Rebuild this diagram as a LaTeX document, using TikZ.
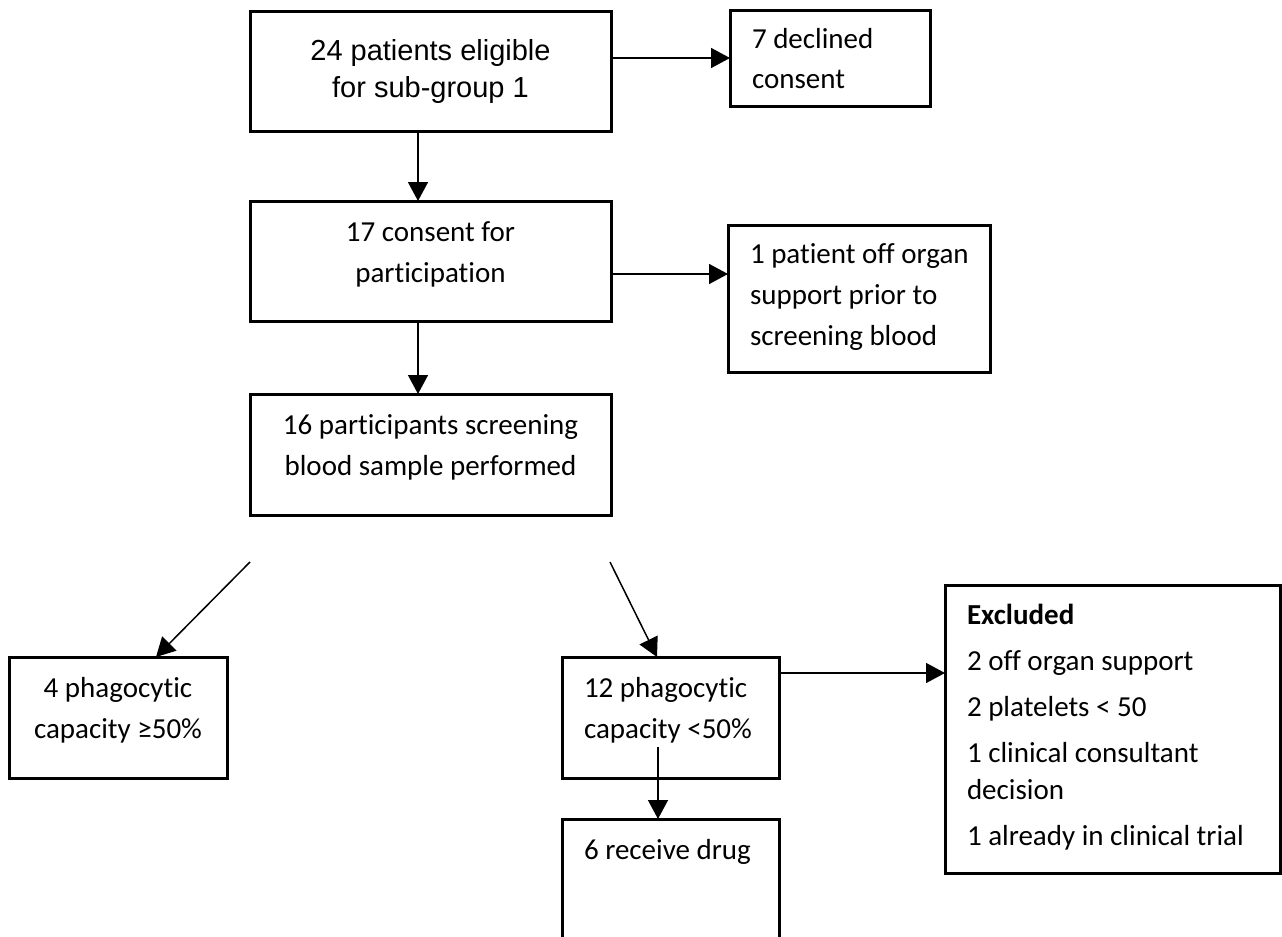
\documentclass[tikz,border=0pt]{standalone}
\usepackage{fontspec}
\setmainfont{Carlito}[Ligatures={NoCommon}]
\newfontfamily\arialfont{Liberation Sans}
\usetikzlibrary{arrows.meta}

\newdimen\px \px=0.5pt
% box of #1 x #2 px, first baseline #3 px below the top
\newcommand\boxtext[5]{%
  \parbox[c][#2\px][t]{#1\px}{#4\rule{0pt}{#3\px}#5}}
\newcommand\middletext{\fontsize{14.5}{20.5}\selectfont\centering}
\newcommand\lefttext{\fontsize{14.5}{20.5}\selectfont\raggedright\leftskip=22\px}
\newcommand\arialtext{\arialfont\fontsize{14.5}{18.5}\selectfont\centering}
\newcommand\listtext{\fontsize{14.5}{18.5}\selectfont\raggedright\leftskip=22\px\parskip=4.5pt}

\tikzset{flowbox/.style={draw, line width=1.5pt, inner sep=0pt, outer sep=0pt, anchor=north west}}

\begin{document}
\begin{tikzpicture}[x=0.5pt, y=-0.5pt, >={Triangle[length=9.5pt,width=10pt]}, line width=0.75pt]
  \useasboundingbox (0,0) rectangle (1282,937);
  \clip (0,0) rectangle (1282,937);

  % main column
  \node[flowbox] (elig) at (250,11) {\boxtext{361}{120}{49}{\arialtext}{24 patients eligible\\ for sub-group 1}};
  \node[flowbox] (consent) at (250,201) {\boxtext{361}{120}{40}{\middletext}{17 consent for\\ participation}};
  \node[flowbox] (screened) at (250,394) {\boxtext{361}{121}{40}{\middletext}{16 participants screening\\ blood sample performed}};

  % side boxes
  \node[flowbox] (declined) at (730,10) {\boxtext{200}{96}{38}{\lefttext}{7 declined\\ consent}};
  \node[flowbox] (offorgan) at (728,225) {\boxtext{262}{147}{38}{\lefttext}{1 patient off organ\\ support prior to\\ screening blood}};

  % split
  \node[flowbox] (highpc) at (9,657) {\boxtext{218}{121}{40}{\middletext}{4 phagocytic\\ capacity ≥50\%}};
  \node[flowbox] (lowpc) at (562,657) {\boxtext{217}{121}{40}{\lefttext}{12 phagocytic\\ capacity <50\%}};
  \node[flowbox] (drug) at (562,819) {\boxtext{217}{160}{40}{\lefttext}{6 receive drug}};
  \node[flowbox] (excluded) at (945,585) {\boxtext{335}{288}{39}{\listtext}{\textbf{Excluded}\par
      2 off organ support\par
      2 platelets < 50\par
      1 clinical consultant\\ decision\par
      1 already in clinical trial}};

  \draw[->] (elig.east |- declined.west) -- (declined.west);
  \draw[->] ([xshift=-6.25pt]elig.south) -- ([xshift=-6.25pt]consent.north);
  \draw[->] ([yshift=-6.5pt]consent.east) -- ([yshift=-6.5pt]consent.east -| offorgan.west);
  \draw[->] ([xshift=-6.25pt]consent.south) -- ([xshift=-6.25pt]screened.north);

  \coordinate (splitL) at (250,562);
  \coordinate (splitR) at (610,562);
  \draw[->] (splitL) -- ([xshift=19pt]highpc.north);
  \draw[->] (splitR) -- ([xshift=-6.75pt]lowpc.north);

  \coordinate (lowout) at ([yshift=-8pt]lowpc.north east);
  \draw[->] (lowout) -- (lowout -| excluded.west);
  \coordinate (drugin) at (658,747);
  \draw[->] (drugin) -- (drugin |- drug.north);
\end{tikzpicture}
\end{document}
